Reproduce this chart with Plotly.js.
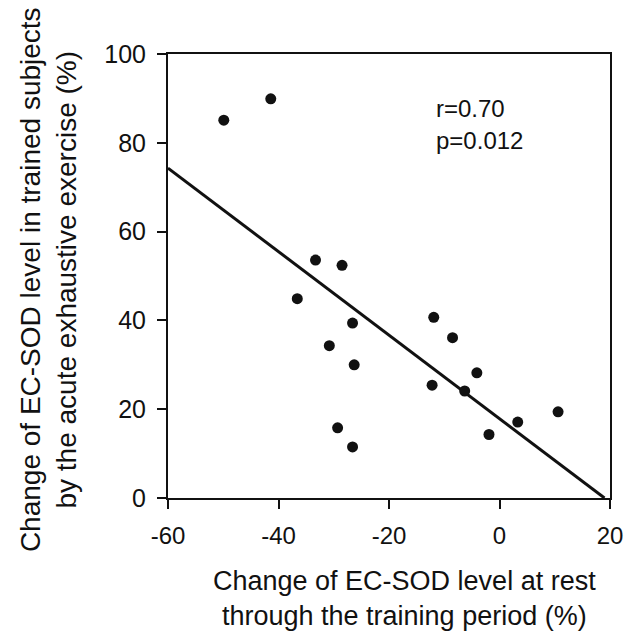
<!DOCTYPE html>
<html>
<head>
<meta charset="utf-8">
<script src="https://cdn.plot.ly/plotly-3.0.1.min.js"></script>
<style>html,body{margin:0;padding:0;background:#fff;}#chart{width:625px;height:631px;}</style>
</head>
<body>
<div id="chart"></div>
<script>
// Data
const restChange = [-49.9, -41.4, -33.3, -28.5, -36.6, -26.6, -30.8, -26.3, -29.3, -26.6,
                    -11.9, -8.5, -4.1, -12.2, -6.3, 10.6, 3.3, -1.9];
const exerciseChange = [85.1, 89.9, 53.6, 52.4, 44.9, 39.4, 34.3, 30.0, 15.8, 11.5,
                        40.7, 36.1, 28.2, 25.4, 24.1, 19.4, 17.1, 14.3];
const fitX = [-60, 19];
const fitY = [74.3, 0];
const xTicks = [-60, -40, -20, 0, 20];
const yTicks = [0, 20, 40, 60, 80, 100];
const statR = "r=0.70";
const statP = "p=0.012";
const xTitleText = "Change of EC-SOD level at rest<br>through the training period (%)";
const yTitleText = "Change of EC-SOD level in trained subjects<br>by the acute exhaustive exercise (%)";

const FONT = "Liberation Sans, Arial, Helvetica, sans-serif";
const INK = "#111111";

const traces = [
  {
    x: fitX, y: fitY, mode: "lines", type: "scatter",
    line: {color: INK, width: 3}, hoverinfo: "skip", cliponaxis: false
  },
  {
    x: restChange, y: exerciseChange, mode: "markers", type: "scatter",
    marker: {color: INK, size: 11}, cliponaxis: false
  }
];

const axisCommon = {
  showgrid: false, zeroline: false, showline: true, mirror: true,
  linecolor: INK, linewidth: 2, ticks: "outside", ticklen: 9, tickwidth: 2,
  tickcolor: INK,
  ticklabelstandoff: 6, ticklabeloverflow: "allow", automargin: false
};

const layout = {
  width: 625, height: 631,
  margin: {l: 168, r: 15, t: 54, b: 133, pad: 0},
  paper_bgcolor: "#ffffff", plot_bgcolor: "#ffffff",
  showlegend: false,
  font: {family: FONT, color: INK},
  xaxis: Object.assign({}, axisCommon, {
    range: [-60, 20], tickmode: "array", tickvals: xTicks, ticktext: xTicks.map(String),
    tickfont: {family: FONT, size: 24, color: INK}
  }),
  yaxis: Object.assign({}, axisCommon, {
    range: [0, 100], tickmode: "array", tickvals: yTicks, ticktext: yTicks.map(String),
    tickfont: {family: FONT, size: 25, color: INK}
  }),
  annotations: [
    {text: statR, x: -11.8, y: 87.8, xref: "x", yref: "y", xanchor: "left", yanchor: "middle",
     showarrow: false, font: {family: FONT, size: 24, color: INK}},
    {text: statP, x: -11.8, y: 80.6, xref: "x", yref: "y", xanchor: "left", yanchor: "middle",
     showarrow: false, font: {family: FONT, size: 24, color: INK}},
    {text: xTitleText, x: 0.535, y: -0.2270, xref: "paper", yref: "paper",
     xanchor: "center", yanchor: "middle", showarrow: false,
     font: {family: FONT, size: 27, color: INK}},
    {text: yTitleText, x: -0.2715, y: 0.493, xref: "paper", yref: "paper",
     xanchor: "center", yanchor: "middle", textangle: -90, showarrow: false,
     font: {family: FONT, size: 28, color: INK}}
  ]
};

Plotly.newPlot("chart", traces, layout, {staticPlot: true, displayModeBar: false});
</script>
</body>
</html>
